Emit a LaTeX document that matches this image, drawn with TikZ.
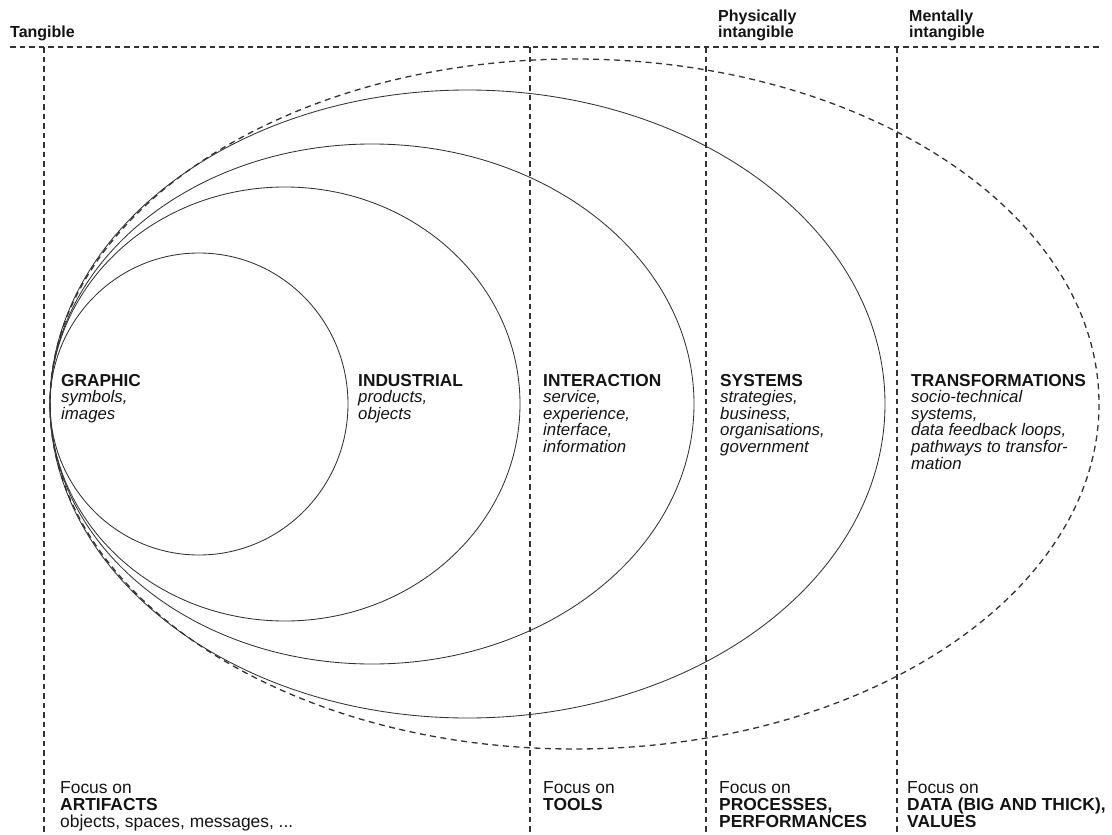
\documentclass[tikz,border=0pt]{standalone}
\usepackage{fontspec}
\setmainfont{Liberation Sans}
\definecolor{ink}{HTML}{141414}
\definecolor{linegrey}{HTML}{333333}
\newcommand{\stk}[1]{\vtop{\lineskiplimit=-100pt\relax #1}}
\newcommand{\lblhead}[1]{\hbox{\bfseries #1}}
\newcommand{\lblsub}[1]{\hbox{\fontsize{16.8}{16.6}\selectfont\itshape #1}}
\newcommand{\lblplain}[1]{\hbox{#1}}
\begin{document}
\begin{tikzpicture}[x=1pt,y=-1pt,
  ring/.style={draw=linegrey, line width=0.85pt},
  dashring/.style={draw=linegrey, line width=1.3pt, dash pattern=on 6pt off 4.5pt},
  gridline/.style={draw=linegrey, line width=1.1pt, dash pattern=on 5.5pt off 4pt},
  toplbl/.style={anchor=base west, inner sep=0pt, text=ink, font=\fontsize{16}{17}\selectfont\bfseries},
  midlbl/.style={anchor=base west, inner sep=0pt, text=ink, font=\fontsize{17.3}{16.6}\selectfont},
  botlbl/.style={anchor=base west, inner sep=0pt, text=ink, font=\fontsize{17.4}{17.3}\selectfont}]

\useasboundingbox[fill=white] (0,0) rectangle (1112,835);

% grid
\coordinate (hl) at (10,47);
\coordinate (hr) at (1100,47);
\draw[gridline] (hl) -- (hr);
\foreach \n/\x in {a/44, b/530, c/706, d/897}{
  \coordinate (v\n t) at (\x,47);
  \coordinate (v\n b) at (\x,835);
  \draw[gridline] (v\n t) -- (v\n b);
}

% ellipses
\draw[ring] (199,404) ellipse [x radius=149, y radius=151];
\draw[ring] (285,404) ellipse [x radius=235, y radius=217];
\draw[ring] (372,404) ellipse [x radius=322, y radius=260];
\draw[ring] (467.5,404) ellipse [x radius=417.5, y radius=314];
\draw[dashring] (574.5,404) ellipse [x radius=524.5, y radius=345];

% top labels
\node[toplbl] (tang) at (10,37) {Tangible};
\node[toplbl] (phys) at (718,21) {\stk{\lblplain{Physically}\lblplain{intangible}}};
\node[toplbl] (ment) at (909,21) {\stk{\lblplain{Mentally}\lblplain{intangible}}};

% middle labels
\node[midlbl] (graphic) at (61,386) {\stk{\lblhead{GRAPHIC}\lblsub{symbols,}\lblsub{images}}};
\node[midlbl] (industrial) at (358,386) {\stk{\lblhead{INDUSTRIAL}\lblsub{products,}\lblsub{objects}}};
\node[midlbl] (interaction) at (543,386) {\stk{\lblhead{INTERACTION}\lblsub{service,}\lblsub{experience,}\lblsub{interface,}\lblsub{information}}};
\node[midlbl] (systems) at (720,386) {\stk{\lblhead{SYSTEMS}\lblsub{strategies,}\lblsub{business,}\lblsub{organisations,}\lblsub{government}}};
\node[midlbl] (transf) at (911,386) {\stk{\lblhead{TRANSFORMATIONS}\lblsub{socio-technical}\lblsub{systems,}\lblsub{data feedback loops,}\lblsub{pathways to transfor-}\lblsub{mation}}};

% bottom labels
\node[botlbl] (artifacts) at (60,793) {\stk{\lblplain{Focus on}\lblhead{ARTIFACTS}\lblplain{objects, spaces, messages, ...}}};
\node[botlbl] (tools) at (543,793) {\stk{\lblplain{Focus on}\lblhead{TOOLS}}};
\node[botlbl] (processes) at (719,793) {\stk{\lblplain{Focus on}\lblhead{PROCESSES,}\lblhead{PERFORMANCES}}};
\node[botlbl] (data) at (907,793) {\stk{\lblplain{Focus on}\lblhead{DATA (BIG AND THICK),}\lblhead{VALUES}}};
\end{tikzpicture}
\end{document}
